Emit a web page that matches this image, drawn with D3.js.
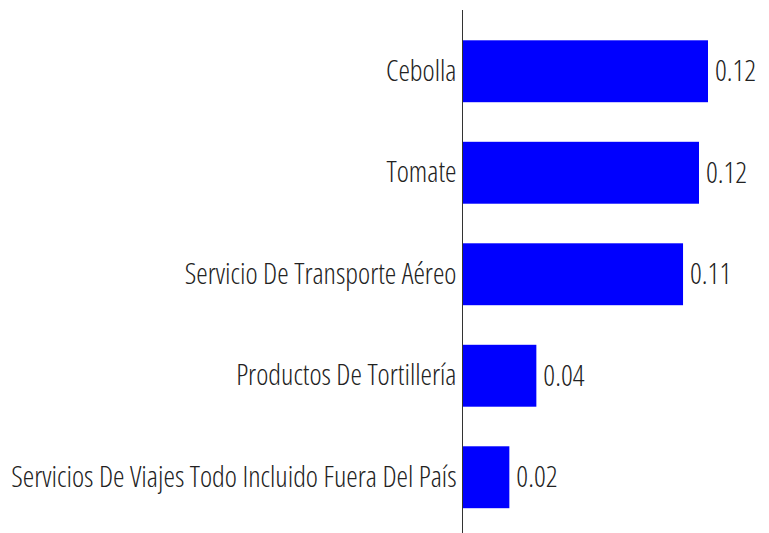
<!DOCTYPE html>
<html>
<head>
<meta charset="utf-8">
<script src="https://cdn.jsdelivr.net/npm/d3@7"></script>
<style>
  body { margin: 0; background: #fff; }
  text { font-family: "Open Sans", sans-serif; font-stretch: 75%; font-weight: 300; fill: #222; }
</style>
</head>
<body>
<script>
// data
const categories = ['Cebolla', 'Tomate', 'Servicio De Transporte Aéreo', 'Productos De Tortillería', 'Servicios De Viajes Todo Incluido Fuera Del País'];
const values = [0.1200, 0.1156, 0.1078, 0.0361, 0.0229];

const width = 769, height = 533;
const margin = {top: 20, right: 61, bottom: 5, left: 462.5};

const data = categories.map((c, i) => ({name: c, value: values[i]}));

const svg = d3.select('body').append('svg')
  .attr('width', width)
  .attr('height', height);

const xScale = d3.scaleLinear()
  .domain([0, 0.12])
  .range([margin.left, 708]);

const yScale = d3.scaleBand()
  .domain(categories)
  .range([margin.top, height - margin.bottom + 0.5])
  .paddingInner(0.39)
  .paddingOuter(0.2);

// bars
svg.append('g')
  .selectAll('rect')
  .data(data)
  .join('rect')
  .attr('x', xScale(0))
  .attr('y', d => yScale(d.name))
  .attr('width', d => xScale(d.value) - xScale(0))
  .attr('height', yScale.bandwidth())
  .attr('fill', '#0000ff');

// value labels
svg.append('g')
  .selectAll('text')
  .data(data)
  .join('text')
  .attr('x', d => xScale(d.value) + 7)
  .attr('y', d => yScale(d.name) + yScale.bandwidth() / 2)
  .attr('dy', '0.35em')
  .attr('font-size', 29)
  .text(d => d3.format('.2f')(d.value));

// category axis
const yAxis = d3.axisLeft(yScale).tickSize(0).tickPadding(6);
const g = svg.append('g')
  .attr('transform', `translate(${margin.left},0)`)
  .call(yAxis);
g.select('.domain').remove();
g.selectAll('text').attr('font-size', 29).attr('font-family', null);

svg.append('line')
  .attr('x1', margin.left).attr('x2', margin.left)
  .attr('y1', 10).attr('y2', height)
  .attr('stroke', '#333').attr('stroke-width', 1);
</script>
</body>
</html>
